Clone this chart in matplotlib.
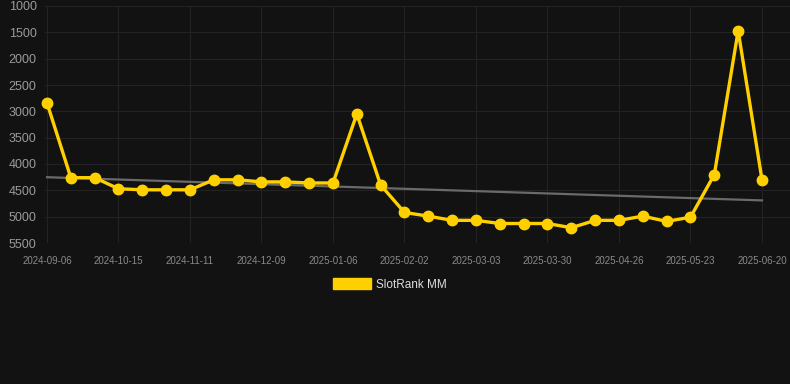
import numpy as np
import matplotlib
matplotlib.use("Agg")
import matplotlib.pyplot as plt
from matplotlib.patches import Patch

plt.rcParams['font.family'] = ['Liberation Sans', 'DejaVu Sans']

# tick labels shown every 3rd point
tick_labels = ["2024-09-06", "2024-10-15", "2024-11-11", "2024-12-09", "2025-01-06",
               "2025-02-02", "2025-03-03", "2025-03-30", "2025-04-26", "2025-05-23",
               "2025-06-20"]
rank = [2840, 4260, 4260, 4470, 4490, 4490, 4490, 4300, 4300, 4340, 4340,
        4360, 4360, 3050, 4400, 4920, 4990, 5070, 5070, 5130, 5130, 5130,
        5210, 5070, 5070, 4990, 5090, 5010, 4200, 1470, 4300]
yticks = [1000, 1500, 2000, 2500, 3000, 3500, 4000, 4500, 5000, 5500]

bg = "#121212"
gold = "#FFD000"
x = np.arange(len(rank))

fig = plt.figure(figsize=(7.9, 3.84), dpi=100, facecolor=bg)
ax = fig.add_axes([45 / 790, 141 / 384, 745 / 790, 237 / 384], facecolor=bg)

# trend line (least squares)
k, b = np.polyfit(x, rank, 1)
ax.plot(x, k * x + b, color="#6a6a6a", lw=1.6, zorder=2)

ax.plot(x, rank, color=gold, lw=2.4, marker="o", ms=7.5, solid_joinstyle="miter",
        zorder=3, clip_on=False)

ax.set_ylim(5500, 1000)
ax.set_yticks(yticks)
px = 715 / 30
ax.set_xlim(-2 / px, (790 - 47) / px)
ax.set_xticks(x[::3])
ax.set_xticklabels(tick_labels)

ax.grid(True, color="#232323", lw=0.8)
ax.set_axisbelow(True)
for s in ax.spines.values():
    s.set_visible(False)
ax.tick_params(axis="both", length=0)
ax.tick_params(axis="y", labelsize=9, labelcolor="#9a9a9a", pad=6)
ax.tick_params(axis="x", labelsize=7, labelcolor="#8a8a8a", pad=9)

leg = fig.legend(handles=[Patch(facecolor=gold, edgecolor=gold, label="SlotRank MM")],
                 loc="center", bbox_to_anchor=(390 / 790, 1 - 284.5 / 384), frameon=False,
                 handlelength=3.2, handleheight=1.1, handletextpad=0.45, fontsize=8.5)
for t in leg.get_texts():
    t.set_color("#dddddd")

fig.savefig("out.png", dpi=100, facecolor=bg)
